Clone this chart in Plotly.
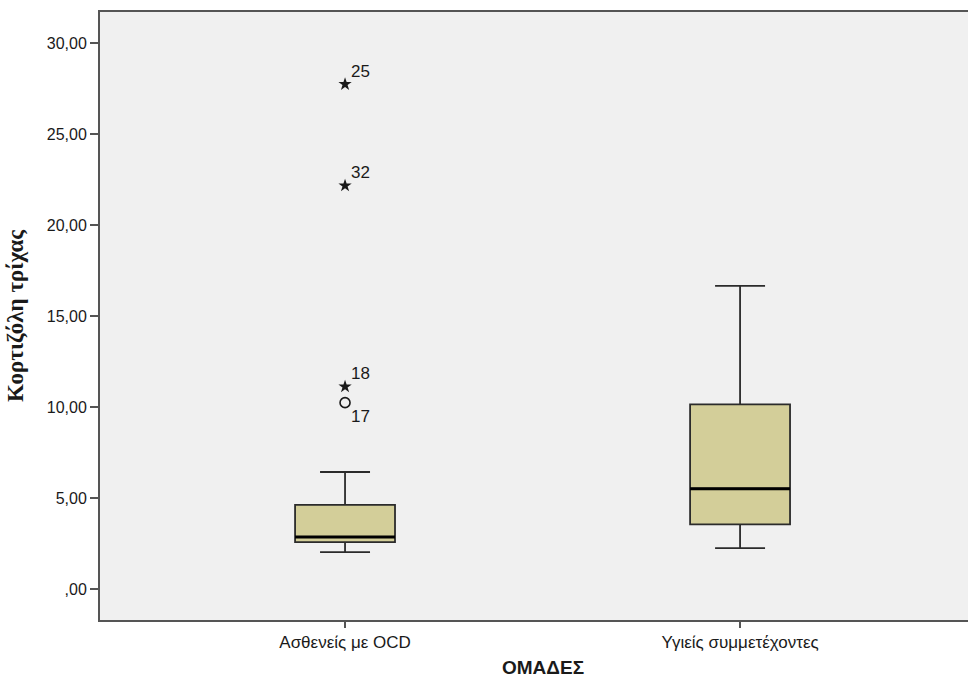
import plotly.graph_objects as go

# ---- data ----
groups = ["Ασθενείς με OCD", "Υγιείς συμμετέχοντες"]
group_pos = [0, 1]
q1 = [2.58, 3.55]
median = [2.86, 5.51]
q3 = [4.62, 10.15]
lower_whisker = [2.03, 2.25]
upper_whisker = [6.43, 16.66]

# outliers (group index, value, case id, kind)
out_group = [0, 0, 0, 0]
out_value = [27.73, 22.16, 11.12, 10.24]
out_id = ["25", "32", "18", "17"]
out_kind = ["extreme", "extreme", "extreme", "outlier"]

y_ticks = [0, 5, 10, 15, 20, 25, 30]
y_tick_labels = [",00", "5,00", "10,00", "15,00", "20,00", "25,00", "30,00"]

y_title = "Κορτιζόλη τρίχας"
x_title = "ΟΜΑΔΕΣ"

# ---- style ----
BOX_W = 0.253
FILL = "rgb(211,206,153)"
EDGE = "#2b2b2b"
PLOT_BG = "#F0F0F0"
AXIS = "#555555"
SANS = "Liberation Sans, Arial, sans-serif"

fig = go.Figure()

for i in range(len(groups)):
    fig.add_trace(go.Box(
        x=[group_pos[i]], q1=[q1[i]], median=[median[i]], q3=[q3[i]],
        lowerfence=[lower_whisker[i]], upperfence=[upper_whisker[i]],
        width=BOX_W, whiskerwidth=0.5, fillcolor=FILL,
        line=dict(color=EDGE, width=1.8), boxpoints=False,
        hoverinfo="skip", showlegend=False,
    ))
    # thick median line
    fig.add_trace(go.Scatter(
        x=[group_pos[i] - BOX_W / 2, group_pos[i] + BOX_W / 2],
        y=[median[i], median[i]], mode="lines",
        line=dict(color="black", width=3.2),
        hoverinfo="skip", showlegend=False,
    ))

ext_x = [group_pos[g] for g, k in zip(out_group, out_kind) if k == "extreme"]
ext_y = [v for v, k in zip(out_value, out_kind) if k == "extreme"]
ol_x = [group_pos[g] for g, k in zip(out_group, out_kind) if k == "outlier"]
ol_y = [v for v, k in zip(out_value, out_kind) if k == "outlier"]

fig.add_trace(go.Scatter(
    x=ext_x, y=ext_y, mode="markers",
    marker=dict(symbol="star", size=10, color="#1a1a1a", line=dict(width=0)),
    hoverinfo="skip", showlegend=False,
))
fig.add_trace(go.Scatter(
    x=ol_x, y=ol_y, mode="markers",
    marker=dict(symbol="circle-open", size=10, color="#1a1a1a", line=dict(width=1.6)),
    hoverinfo="skip", showlegend=False,
))

for g, v, cid, k in zip(out_group, out_value, out_id, out_kind):
    above = k == "extreme"
    fig.add_annotation(
        x=group_pos[g], y=v, text=cid, showarrow=False,
        xanchor="left", yanchor="middle", xshift=4,
        yshift=13 if above else -14,
        font=dict(family=SANS, size=17, color="#1a1a1a"),
    )

# x-axis title as a free annotation (kept below tick labels)
fig.add_annotation(
    xref="paper", yref="paper", x=0.51, y=0, text="<b>" + x_title + "</b>",
    showarrow=False, xanchor="center", yanchor="middle", yshift=-47,
    font=dict(family=SANS, size=19, color="#1a1a1a"),
)

fig.update_layout(
    width=968, height=678,
    margin=dict(l=100, r=0, t=12, b=58),
    paper_bgcolor="white", plot_bgcolor=PLOT_BG,
    font=dict(family=SANS, size=15, color="#1a1a1a"),
    showlegend=False,
)
fig.update_xaxes(
    range=[-0.6203, 1.577], tickmode="array", tickvals=group_pos, ticktext=groups,
    ticks="outside", ticklen=6, tickcolor=AXIS, tickwidth=1.5,
    showline=True, linecolor=AXIS, linewidth=2, mirror=True,
    showgrid=False, zeroline=False, automargin=False,
    tickfont=dict(size=17),
)
fig.update_yaxes(
    range=[-1.7, 31.7], tickmode="array", tickvals=y_ticks, ticktext=y_tick_labels,
    ticks="outside", ticklen=8, tickcolor=AXIS, tickwidth=1.5,
    showline=True, linecolor=AXIS, linewidth=2,
    showgrid=False, zeroline=False,
    tickfont=dict(size=16),
    title=dict(text="<b>" + y_title + "</b>", standoff=17,
               font=dict(family="Liberation Serif, Times New Roman, serif", size=23)),
)

fig.write_html("out.html", config={"displayModeBar": False},
               post_script="document.body.style.margin='0';document.body.style.overflow='hidden';")
